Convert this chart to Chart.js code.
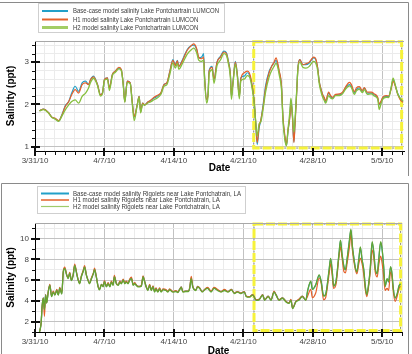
<!DOCTYPE html>
<html><head><meta charset="utf-8">
<script src="https://cdn.jsdelivr.net/npm/chart.js@4.4.1/dist/chart.umd.min.js"></script>
<style>
html,body{margin:0;padding:0;background:#fff;width:412px;height:354px;overflow:hidden;position:relative}
canvas{position:absolute;left:0}
#c1{top:0}
#c2{top:176px}
</style></head><body>
<canvas id="c1" width="412" height="176"></canvas>
<canvas id="c2" width="412" height="182"></canvas>
<script>
// ---------- tick labels ----------
const xLabels = ['3/31/10','4/7/10','4/14/10','4/21/10','4/28/10','5/5/10']; // every 7 days from 3/31/10
const topYLabels = ['1','2','3'];
const botYLabels = ['2','4','6','8','10'];

// ---------- top chart: Lake Pontchartrain LUMCON (days since 3/31/10, salinity ppt) ----------
const topDays = [0.45,0.85,1.35,1.7,2.0,2.4,2.7,3.05,3.4,3.7,
 4.05,4.4,4.75,5.1,5.4,5.6,5.9,6.3,6.6,6.8,
 7.0,7.3,7.5,7.8,8.1,8.45,8.7,8.9,9.05,9.3,
 9.6,9.8,10.0,10.3,10.5,10.65,10.85,11.05,11.35,11.65,
 12.0,12.3,12.7,13.0,13.3,13.6,13.9,14.15,14.35,14.5,
 14.8,15.1,15.35,15.7,16.0,16.3,16.5,16.8,17.0,17.1,
 17.3,17.45,17.55,17.85,18.05,18.35,18.7,19.05,19.3,19.5,
 19.7,19.8,19.95,20.2,20.4,20.6,20.75,21.1,21.4,21.6,
 21.8,22.1,22.25,22.4,22.6,22.75,23.0,23.25,23.6,23.9,
 24.1,24.3,24.5,24.6,24.85,25.0,25.2,25.35,25.5,25.7,
 25.8,25.95,26.1,26.2,26.4,26.5,26.7,27.0,27.3,27.65,
 27.9,28.1,28.3,28.5,28.65,28.8,29.0,29.15,29.3,29.6,
 29.8,30.0,30.3,30.7,31.0,31.3,31.7,31.9,32.2,32.4,
 32.7,33.0,33.2,33.5,33.9,34.2,34.55,34.7,34.9,35.05,
 35.4,35.65,35.9,36.1,36.3,36.55,36.8,37.1];
const topBase = [1.85,1.89,1.81,1.70,1.67,1.61,1.75,1.97,2.07,2.27,
 2.43,2.31,2.51,2.55,2.47,2.59,2.67,2.47,2.23,2.27,
 2.59,2.63,2.39,2.71,2.79,2.86,2.82,2.47,2.07,2.55,
 2.51,2.07,1.70,1.99,2.19,1.83,2.03,1.99,2.05,2.09,
 2.15,2.19,2.27,2.47,2.51,2.79,3.06,2.94,3.04,2.90,
 3.02,3.18,3.30,3.38,3.40,3.30,3.10,3.12,3.20,2.63,
 2.11,2.28,2.80,2.90,2.59,3.00,3.14,3.26,3.22,3.02,
 2.71,2.19,2.51,3.02,2.71,2.19,2.63,2.67,2.75,2.71,
 2.55,2.07,1.55,1.05,1.45,1.60,2.00,2.45,2.78,2.92,
 2.98,3.04,2.90,2.79,2.43,1.67,1.19,1.03,1.35,1.75,
 2.11,1.75,1.11,1.51,2.39,2.86,3.06,2.94,2.94,2.98,
 3.06,3.10,3.06,2.86,2.55,2.39,2.23,2.15,2.07,2.27,
 2.19,2.15,2.23,2.23,2.27,2.39,2.47,2.43,2.27,2.35,
 2.39,2.31,2.39,2.27,2.27,2.23,2.15,1.99,2.07,2.15,
 2.19,2.19,2.39,2.59,2.47,2.27,2.15,2.07];
const topH1 = [1.85,1.89,1.81,1.70,1.68,1.62,1.74,1.95,2.07,2.23,
 2.35,2.27,2.47,2.51,2.47,2.59,2.65,2.47,2.23,2.27,
 2.59,2.63,2.39,2.71,2.79,2.88,2.83,2.47,2.07,2.55,
 2.51,2.07,1.72,1.99,2.19,1.83,2.03,1.99,2.05,2.10,
 2.17,2.21,2.28,2.47,2.52,2.79,3.04,2.92,3.03,2.90,
 3.00,3.16,3.28,3.38,3.43,3.32,3.12,3.08,3.12,2.63,
 2.12,2.25,2.78,2.88,2.60,3.00,3.12,3.24,3.20,3.00,
 2.70,2.19,2.50,3.00,2.70,2.19,2.60,2.75,2.79,2.75,
 2.58,2.07,1.58,1.10,1.50,1.62,1.95,2.39,2.75,2.92,
 3.00,3.10,2.95,2.82,2.45,1.70,1.25,1.06,1.38,1.72,
 2.05,1.70,1.10,1.45,2.35,2.84,3.06,2.94,2.96,3.00,
 3.08,3.12,3.08,2.86,2.55,2.39,2.23,2.17,2.09,2.29,
 2.21,2.17,2.24,2.25,2.29,2.41,2.52,2.47,2.30,2.39,
 2.42,2.33,2.40,2.29,2.29,2.25,2.17,2.01,2.09,2.17,
 2.21,2.20,2.36,2.55,2.45,2.25,2.12,2.05];
const topH2 = [1.85,1.88,1.80,1.69,1.66,1.60,1.72,1.87,1.99,2.07,
 2.11,2.03,2.19,2.27,2.39,2.52,2.62,2.45,2.20,2.25,
 2.57,2.60,2.33,2.68,2.76,2.84,2.80,2.45,2.05,2.52,
 2.49,2.03,1.62,1.97,2.17,1.80,2.01,1.98,2.03,2.06,
 2.11,2.15,2.24,2.43,2.47,2.72,2.98,2.86,2.97,2.83,
 2.94,3.08,3.19,3.28,3.33,3.22,3.05,3.02,3.05,2.58,
 2.03,2.20,2.72,2.82,2.50,2.92,3.05,3.20,3.16,2.96,
 2.64,2.12,2.45,2.95,2.65,2.13,2.56,2.60,2.68,2.66,
 2.50,2.02,1.60,1.25,1.55,1.58,1.90,2.30,2.65,2.82,
 2.90,2.97,2.85,2.72,2.35,1.62,1.15,1.02,1.40,1.85,
 2.15,1.78,1.35,1.60,2.40,2.82,3.00,2.88,2.86,2.90,
 2.98,3.02,2.98,2.80,2.50,2.33,2.17,2.10,2.03,2.21,
 2.15,2.13,2.21,2.21,2.25,2.36,2.44,2.40,2.24,2.32,
 2.36,2.28,2.35,2.24,2.25,2.20,2.13,1.88,2.03,2.12,
 2.17,2.16,2.40,2.62,2.48,2.26,2.15,2.08];

// ---------- bottom chart: Rigolets near Lake Pontchatrain, LA ----------
const botDays = [0.45,0.55,0.62,0.72,0.84,0.95,1.07,1.17,1.34,1.5,
 1.67,1.84,2.0,2.2,2.35,2.5,2.7,2.85,3.0,3.2,
 3.35,3.5,3.67,3.85,4.0,4.2,4.35,4.5,4.67,4.85,
 5.0,5.18,5.35,5.5,5.7,5.9,6.0,6.18,6.36,6.5,
 6.7,6.87,7.0,7.2,7.37,7.55,7.7,7.87,8.0,8.2,
 8.4,8.55,8.7,8.9,9.05,9.2,9.38,9.55,9.72,9.9,
 10.05,10.2,10.38,10.55,10.72,10.9,11.05,11.2,11.38,11.56,
 11.72,11.9,12.05,12.2,12.38,12.56,12.72,12.9,13.2,13.4,
 13.57,13.9,14.2,14.4,14.57,14.75,14.9,15.2,15.45,15.6,
 15.75,15.9,16.2,16.4,16.6,16.85,17.1,17.4,17.75,18.05,
 18.4,18.75,19.1,19.45,19.8,20.1,20.4,20.75,21.1,21.3,
 21.6,21.95,22.3,22.6,22.95,23.15,23.5,23.8,24.1,24.3,
 24.6,24.95,25.3,25.6,25.8,25.97,26.3,26.6,26.95,27.3,
 27.5,27.8,27.97,28.3,28.65,28.85,29.1,29.3,29.65,29.8,
 29.97,30.1,30.35,30.65,30.8,30.95,31.15,31.3,31.45,31.7,
 31.85,32.0,32.15,32.3,32.45,32.65,32.8,32.97,33.15,33.3,
 33.45,33.65,33.8,33.99,34.15,34.3,34.5,34.65,34.85,35.0,
 35.15,35.3,35.5,35.65,35.85,36.0,36.1,36.3,36.5,36.7,36.85];
const botBase = [1.0,1.4,1.9,3.5,4.3,3.15,4.6,3.8,4.9,5.55,
 4.45,4.9,4.6,5.05,4.6,5.25,4.7,6.8,7.15,6.5,
 6.2,6.7,6.0,6.5,7.45,6.65,6.05,5.7,6.35,6.85,
 7.3,6.5,6.0,5.7,6.2,6.7,7.05,6.35,5.4,5.1,
 5.6,5.4,5.9,5.4,5.7,5.4,5.85,5.55,6.35,5.7,
 5.55,5.85,5.7,6.05,5.7,5.85,5.7,6.05,6.2,5.55,
 5.7,5.55,5.4,5.4,5.45,6.35,5.9,5.4,5.05,5.55,
 5.05,5.4,4.9,5.2,4.9,5.2,4.9,5.1,5.05,4.9,
 5.1,4.9,4.95,4.85,5.1,5.35,4.9,4.95,4.95,5.25,
 6.2,5.4,5.05,5.4,5.25,4.9,5.1,5.25,4.9,5.25,
 5.05,4.9,5.05,4.9,5.1,4.75,4.9,4.75,4.9,4.45,
 4.4,4.6,4.1,4.15,4.6,4.1,4.45,4.1,4.9,4.6,
 4.1,4.3,3.95,3.8,4.1,3.3,3.95,4.1,4.45,4.1,
 5.0,5.85,5.1,5.5,6.45,5.9,4.5,4.65,6.95,8.05,
 6.8,5.4,5.9,8.5,9.8,8.5,7.25,7.0,7.9,9.8,
 10.8,9.2,8.1,7.2,6.8,8.0,9.1,8.0,6.95,5.4,
 4.55,5.7,7.1,9.6,8.7,7.1,6.6,7.9,9.6,8.9,
 7.3,5.4,6.1,5.8,7.25,6.5,5.4,4.25,4.6,5.4,5.6];
const botH1 = [1.0,1.4,1.9,3.5,4.3,2.5,4.6,3.8,4.95,5.6,
 4.45,4.95,4.6,5.1,4.6,5.3,4.7,6.85,7.25,6.5,
 6.2,6.75,6.0,6.55,7.55,6.7,6.05,5.7,6.4,6.9,
 7.4,6.5,6.0,5.7,6.25,6.75,7.15,6.35,5.4,5.1,
 5.6,5.4,5.95,5.4,5.75,5.4,5.9,5.55,6.45,5.7,
 5.55,5.9,5.7,6.1,5.7,5.9,5.7,6.1,6.3,5.55,
 5.75,5.55,5.4,5.4,5.5,6.4,5.9,5.4,5.05,5.6,
 5.05,5.45,4.9,5.25,4.9,5.25,4.9,5.15,5.1,4.9,
 5.15,4.9,5.0,4.85,5.1,5.35,4.9,4.95,4.95,5.3,
 6.35,5.45,5.05,5.4,5.25,4.9,5.1,5.3,4.95,5.3,
 5.1,4.9,5.1,4.9,5.1,4.75,4.9,4.75,4.9,4.45,
 4.4,4.6,4.1,4.15,4.6,4.1,4.45,4.1,4.95,4.6,
 4.1,4.3,3.95,3.8,4.15,3.3,3.95,4.15,4.45,4.1,
 4.5,5.1,4.3,4.75,6.2,5.7,4.1,4.3,6.6,7.6,
 6.4,5.2,5.6,8.3,9.2,8.2,6.8,6.7,7.5,9.2,
 10.4,8.9,7.8,7.0,6.6,7.6,8.1,7.6,6.5,5.1,
 4.4,5.5,6.8,8.9,8.2,6.8,6.3,7.4,8.3,7.6,
 6.4,5.0,5.2,5.0,6.8,6.2,5.1,3.95,4.4,5.2,5.4];
const botH2 = [1.0,1.4,1.9,3.5,4.25,3.15,4.55,3.8,4.9,5.5,
 4.4,4.85,4.55,5.0,4.55,5.2,4.65,6.75,7.1,6.45,
 6.15,6.65,5.95,6.45,7.4,6.6,6.0,5.65,6.3,6.8,
 7.25,6.45,5.95,5.65,6.15,6.65,7.0,6.3,5.35,5.05,
 5.55,5.35,5.85,5.35,5.65,5.35,5.8,5.5,6.3,5.65,
 5.5,5.8,5.65,6.0,5.65,5.8,5.65,6.0,6.15,5.5,
 5.65,5.5,5.35,5.35,5.4,6.3,5.85,5.35,5.0,5.5,
 5.0,5.35,4.85,5.15,4.85,5.15,4.85,5.05,5.0,4.85,
 5.05,4.85,4.9,4.8,5.05,5.3,4.85,4.9,4.9,5.2,
 6.15,5.35,5.0,5.35,5.2,4.85,5.05,5.2,4.85,5.2,
 5.0,4.85,5.0,4.85,5.05,4.7,4.85,4.7,4.85,4.4,
 4.35,4.55,4.05,4.1,4.55,4.05,4.4,4.05,4.85,4.55,
 4.05,4.25,3.9,3.75,4.05,3.25,3.9,4.05,4.4,4.05,
 5.05,5.9,5.1,5.55,6.5,5.85,4.45,4.6,7.0,8.1,
 6.85,5.45,5.9,8.6,9.85,8.55,7.3,7.0,7.95,9.85,
 10.9,9.25,8.1,7.15,6.8,8.1,9.2,8.0,7.0,5.4,
 4.6,5.75,7.15,9.7,8.75,7.15,6.65,7.95,9.7,8.95,
 7.35,5.4,6.15,5.85,7.3,6.55,5.4,4.3,4.65,5.45,5.65];

const topLegend = ['Base-case model salinity Lake Pontchartrain LUMCON','H1 model salinity Lake Pontchartrain LUMCON','H2 model salinity Lake Pontchartrain LUMCON'];
const botLegend = ['Base-case model salinity Rigolets near Lake Pontchatrain, LA','H1 model salinity Rigolets near Lake Pontchatrain, LA','H2 model salinity Rigolets near Lake Pontchatrain, LA'];

// ---------- helpers ----------
const FAM = "'Liberation Sans', Arial, sans-serif";
const TEAL = '#22a0c8', ORANGE = '#e5602a';
const dayTicks = []; for (let d = 0; d <= 37; d++) dayTicks.push(d);
const pts = (days, vals) => days.map((d, i) => ({x: d, y: vals[i]}));

function decor(o) {
  return {
    id: 'decor',
    beforeDatasetsDraw(chart) {
      const {ctx, scales: {x, y}} = chart;
      const x0 = x.getPixelForValue(o.hl[0]), x1 = x.getPixelForValue(o.hl[1]);
      const y0 = y.getPixelForValue(o.hl[3]), y1 = y.getPixelForValue(o.hl[2]);
      ctx.save();
      ctx.strokeStyle = '#f6f23a'; ctx.lineWidth = 3; ctx.setLineDash([9, 3]);
      ctx.strokeRect(x0, y0, x1 - x0, y1 - y0);
      ctx.strokeStyle = '#8c8c6e'; ctx.lineWidth = 1; ctx.setLineDash([2, 10]); ctx.lineDashOffset = -9.5;
      ctx.strokeRect(x0, y0, x1 - x0, y1 - y0);
      ctx.restore();
    },
    afterDraw(chart) {
      const {ctx, chartArea: a, scales: {x, y}} = chart;
      ctx.save();
      // plot top border
      ctx.strokeStyle = '#a8a8a8'; ctx.lineWidth = 1;
      ctx.beginPath(); ctx.moveTo(a.left, a.top + 0.5); ctx.lineTo(a.right, a.top + 0.5); ctx.stroke();
      // tick marks
      ctx.fillStyle = '#111';
      x.ticks.forEach(t => {
        const px = Math.round(x.getPixelForValue(t.value));
        if (t.value % 7 === 0) ctx.fillRect(px - 1, a.bottom - 3, 2, 8);
        else ctx.fillRect(px, a.bottom, 1, 4);
      });
      y.ticks.forEach(t => {
        const py = Math.round(y.getPixelForValue(t.value));
        if (o.isMajorY(t.value)) ctx.fillRect(a.left - 4, py - 1, 9, 2);
        else ctx.fillRect(a.left - 3, py, 4, 1);
      });
      // outer frame
      ctx.strokeStyle = '#8a8a8a'; ctx.lineWidth = 1;
      ctx.beginPath();
      o.frame.forEach((p, i) => i ? ctx.lineTo(p[0], p[1]) : ctx.moveTo(p[0], p[1]));
      ctx.stroke();
      // legend
      const L = o.legend;
      ctx.fillStyle = '#fff'; ctx.fillRect(L.box[0], L.box[1], L.box[2], L.box[3]);
      ctx.strokeStyle = '#cfcfcf'; ctx.strokeRect(L.box[0] + 0.5, L.box[1] + 0.5, L.box[2], L.box[3]);
      ctx.font = '7px ' + FAM; ctx.textBaseline = 'middle'; ctx.textAlign = 'left';
      const sx = L.w0 / ctx.measureText(L.texts[0]).width;
      L.texts.forEach((t, i) => {
        const yy = L.ys[i];
        ctx.strokeStyle = L.colors[i]; ctx.lineWidth = L.widths[i];
        ctx.beginPath(); ctx.moveTo(L.x0, yy); ctx.lineTo(L.x1, yy); ctx.stroke();
        ctx.save(); ctx.translate(L.tx, yy + 0.5); ctx.scale(sx, 1);
        ctx.fillStyle = '#3a3a3a'; ctx.fillText(t, 0, 0); ctx.restore();
      });
      ctx.restore();
    }
  };
}

function makeChart(id, cfg) {
  const labelFor = (vals, labs) => v => { const i = vals.indexOf(Math.round(v * 100) / 100); return i >= 0 ? labs[i] : ''; };
  return new Chart(document.getElementById(id), {
    type: 'line',
    data: {datasets: [
      {data: pts(cfg.days, cfg.base), borderColor: TEAL, borderWidth: 1.2, order: 2},
      {data: pts(cfg.days, cfg.h1), borderColor: ORANGE, borderWidth: 1.2, order: 1},
      {data: pts(cfg.days, cfg.h2), borderColor: cfg.green, borderWidth: 1.3, order: 0}
    ]},
    options: {
      responsive: false, animation: false, events: [],
      elements: {point: {radius: 0}, line: {cubicInterpolationMode: 'monotone', fill: false}},
      layout: {padding: {left: 0, right: cfg.padRight, top: cfg.padTop, bottom: 0}},
      plugins: {legend: {display: false}, tooltip: {enabled: false}},
      scales: {
        x: {
          type: 'linear', min: 0, max: cfg.xMax,
          afterBuildTicks: s => { s.ticks = dayTicks.map(v => ({value: v})); },
          afterFit: s => { s.height = cfg.xH; },
          grid: {drawTicks: false, color: c => (c.tick && c.tick.value % 7 === 0) ? '#c2c2c2' : '#ebebeb'},
          border: {display: true, color: '#000', width: 1},
          ticks: {autoSkip: false, maxRotation: 0, minRotation: 0, padding: 5, color: '#444',
                  font: {family: FAM, size: 8},
                  callback: v => v % 7 === 0 ? xLabels[v / 7] : ''},
          title: {display: true, text: 'Date', color: '#000', font: {family: FAM, size: 10, weight: 'bold'},
                  padding: {top: 0, bottom: cfg.datePad}}
        },
        y: {
          min: cfg.yMin, max: cfg.yMax,
          afterBuildTicks: s => { s.ticks = cfg.yTicks.map(v => ({value: v})); },
          afterFit: s => { s.width = 35; },
          grid: {drawTicks: false, color: c => (c.tick && cfg.isMajorY(c.tick.value)) ? '#c2c2c2' : '#ebebeb'},
          border: {display: true, color: '#000', width: 1},
          ticks: {autoSkip: false, padding: 6, color: '#444', font: {family: FAM, size: 8},
                  callback: labelFor(cfg.yLabelAt, cfg.yLabels)},
          title: {display: true, text: 'Salinity (ppt)', color: '#000', font: {family: FAM, size: 10, weight: 'bold'},
                  padding: {top: 5, bottom: 0}}
        }
      }
    },
    plugins: [decor(cfg)]
  });
}

const topYTicks = []; for (let k = 5; k <= 17; k++) topYTicks.push(Math.round(k * 20) / 100);
const botYTicks = []; for (let k = 1; k <= 11; k++) botYTicks.push(k);

makeChart('c1', {
  days: topDays, base: topBase, h1: topH1, h2: topH2, green: '#86bf3e',
  xMax: 37.2, padRight: 8, padTop: 41, xH: 25, datePad: 1.5,
  yMin: 0.9, yMax: 3.5, yTicks: topYTicks, yLabelAt: [1, 2, 3], yLabels: topYLabels,
  isMajorY: v => Math.abs(v - Math.round(v)) < 1e-6,
  hl: [22.05, 36.96, 0.97, 3.48],
  frame: [[0, 2.5], [408.5, 2.5], [408.5, 176]],
  legend: {box: [38, 3, 186, 29], x0: 42, x1: 68, tx: 73, w0: 146, ys: [11, 19.5, 27.5],
           texts: topLegend, colors: [TEAL, ORANGE, '#a3cd66'], widths: [2, 2, 3]}
});

makeChart('c2', {
  days: botDays, base: botBase, h1: botH1, h2: botH2, green: '#63a532',
  xMax: 37.0, padRight: 10, padTop: 47, xH: 26, datePad: 1,
  yMin: 1, yMax: 11.5, yTicks: botYTicks, yLabelAt: [2, 4, 6, 8, 10], yLabels: botYLabels,
  isMajorY: v => v % 2 === 0,
  hl: [22.08, 36.86, 1.15, 11.4],
  frame: [[1.5, 182], [1.5, 7.5], [408.5, 7.5], [408.5, 182]],
  legend: {box: [37, 10, 208, 27], x0: 41, x1: 69, tx: 73, w0: 168, ys: [17.5, 24, 30.5],
           texts: botLegend, colors: [TEAL, ORANGE, '#9fcb6a'], widths: [2, 1.5, 1.2]}
});
</script>
</body></html>
